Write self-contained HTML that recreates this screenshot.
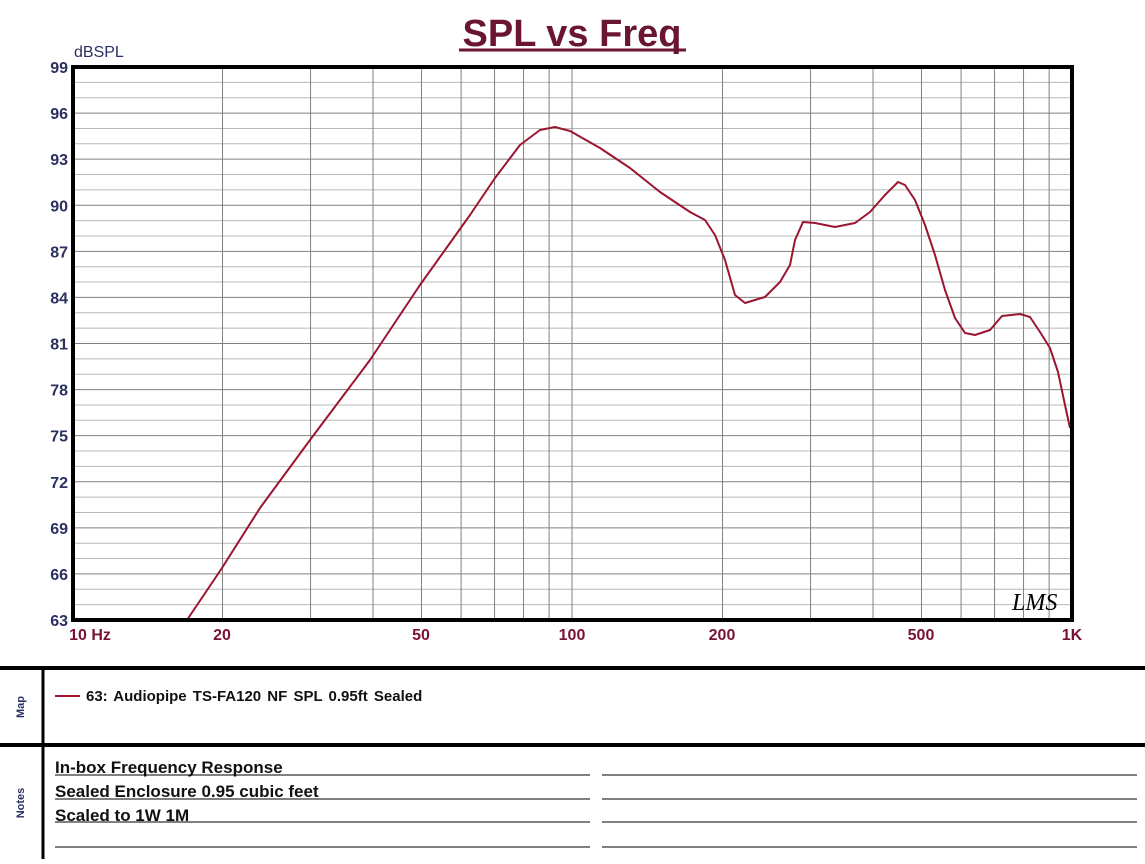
<!DOCTYPE html>
<html><head><meta charset="utf-8"><style>
body{margin:0;background:#fff;width:1145px;height:859px;overflow:hidden;font-family:"Liberation Sans",Arial,sans-serif}
</style></head><body>
<svg id="s" width="1145" height="859" xmlns="http://www.w3.org/2000/svg" font-family="Liberation Sans, Arial, sans-serif">
<text x="572" y="46" text-anchor="middle" font-size="38" font-weight="bold" fill="#6b1535">SPL vs Freq</text>
<line x1="459" y1="50" x2="686" y2="50" stroke="#6b1535" stroke-width="3"/>
<text x="74" y="57" font-size="16" fill="#2a3060">dBSPL</text>
<g id="grid"></g>
<polyline fill="none" stroke="#9b1530" stroke-width="2" stroke-linejoin="round" points="75,620 187,620 222,568 260,508 310,440 370,360 420,285 470,215 495,178 520,145 540,130 555,127 570,131 600,148 630,168 660,192 690,212 705,220 715,235 725,260 735,295 745,303 765,297 780,282 790,265 795,240 803,222 815,223 835,227 855,223 870,212 885,195 898,182 905,185 915,200 925,225 935,255 945,290 955,318 965,333 975,335 990,330 1002,316 1020,314 1030,317 1040,332 1050,348 1058,372 1065,405 1070,428"/>
<rect x="73" y="67" width="999" height="553" fill="none" stroke="#000" stroke-width="4"/>
<text x="1012" y="610" font-size="24" font-style="italic" fill="#000" font-family="Liberation Serif, serif">LMS</text>
<g font-size="16" font-weight="bold" fill="#7a1238" text-anchor="middle">
<text x="90" y="640">10 Hz</text><text x="222" y="640">20</text><text x="421" y="640">50</text><text x="572" y="640">100</text><text x="722" y="640">200</text><text x="921" y="640">500</text><text x="1072" y="640">1K</text>
</g>
<g id="yl" font-size="16" font-weight="bold" fill="#2a3060" text-anchor="end"></g>
<line x1="0" y1="668" x2="1145" y2="668" stroke="#000" stroke-width="4"/>
<line x1="0" y1="745" x2="1145" y2="745" stroke="#000" stroke-width="4"/>
<line x1="43" y1="668" x2="43" y2="859" stroke="#000" stroke-width="3"/>
<text transform="translate(24,707) rotate(-90)" font-size="11" font-weight="bold" fill="#2a3060" text-anchor="middle">Map</text>
<text transform="translate(24,803) rotate(-90)" font-size="11" font-weight="bold" fill="#2a3060" text-anchor="middle">Notes</text>
<line x1="55" y1="696" x2="80" y2="696" stroke="#a0102a" stroke-width="2"/>
<text x="86" y="701" font-size="15" font-weight="bold" fill="#111" word-spacing="2">63: Audiopipe TS-FA120 NF SPL 0.95ft Sealed</text>
<g font-size="17" font-weight="bold" fill="#111">
<text x="55" y="773">In-box Frequency Response</text>
<text x="55" y="797">Sealed Enclosure 0.95 cubic feet</text>
<text x="55" y="821">Scaled to 1W 1M</text>
</g>
<g id="nl" stroke="#000" stroke-width="1"></g>
</svg>
<script>
var ns="http://www.w3.org/2000/svg",g=document.getElementById('grid'),yl=document.getElementById('yl'),nl=document.getElementById('nl');
function L(p,x1,y1,x2,y2,c){var l=document.createElementNS(ns,'line');l.setAttribute('x1',x1);l.setAttribute('y1',y1);l.setAttribute('x2',x2);l.setAttribute('y2',y2);if(c)l.setAttribute('stroke',c);p.appendChild(l);}
for(var d=0;d<=36;d++){var y=67+d*553/36;L(g,73,y,1072,y,d%3==0?'#808080':'#b8b8b8');
 if(d%3==0){var t=document.createElementNS(ns,'text');t.setAttribute('x',68);t.setAttribute('y',y+6);t.textContent=99-d;yl.appendChild(t);}}
[10,100].forEach(function(b){for(var k=1;k<10;k++){var x=72+500*Math.log10(b*k/10);L(g,x,67,x,620,'#808080');}});
[775,799,822,847].forEach(function(y){L(nl,55,y,590,y);L(nl,602,y,1137,y);});
</script>
</body></html>
